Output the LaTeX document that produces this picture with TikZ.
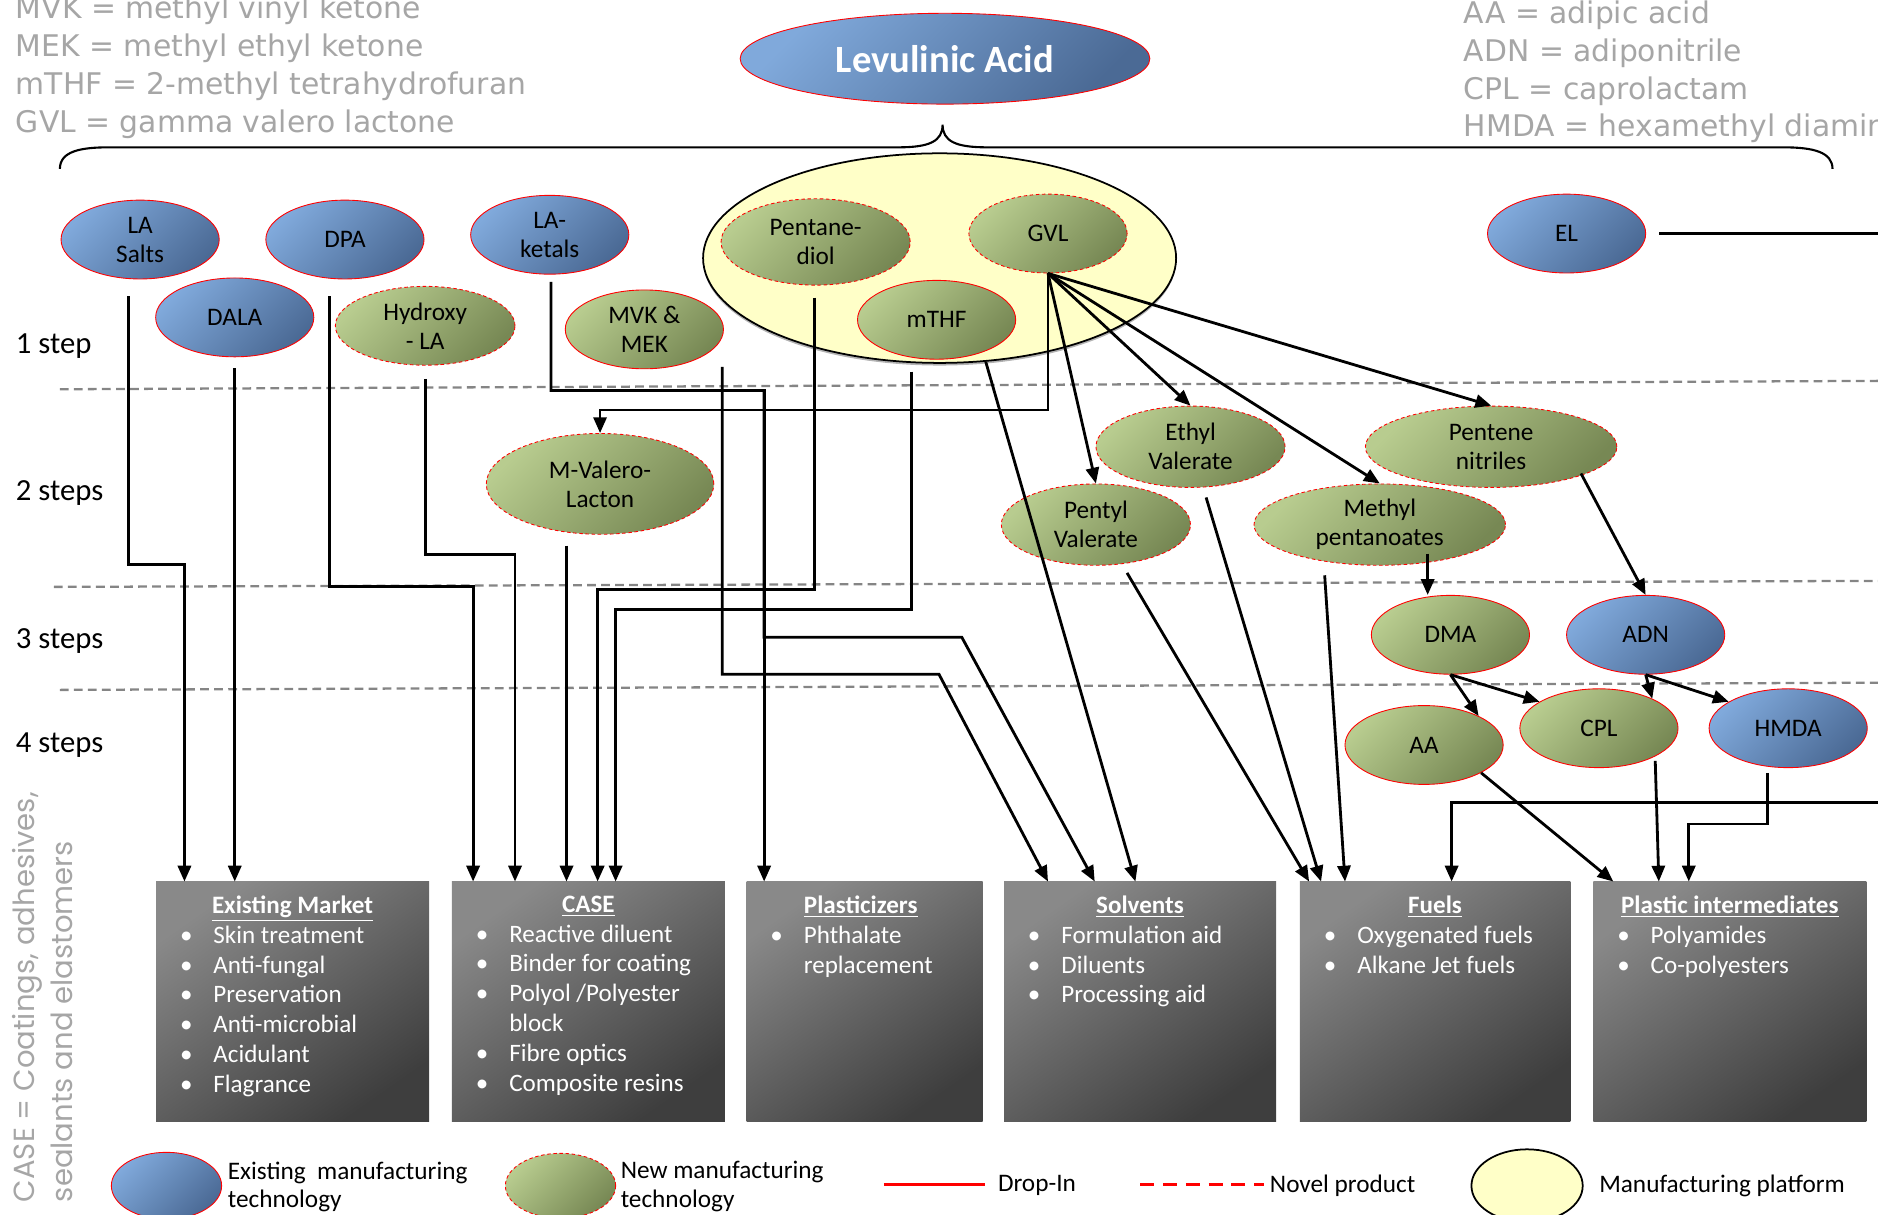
\documentclass[tikz,border=0pt]{standalone}
\usepackage{fontspec}
\setmainfont{Carlito}
\newfontfamily\legendfont{DejaVu Sans}
\newfontfamily\sidefont{Poppins}
\usetikzlibrary{arrows.meta,calc,shapes.geometric,shadows}
\definecolor{bluelt}{HTML}{80A9DB}
\definecolor{bluedk}{HTML}{4B6A95}
\definecolor{greenlt}{HTML}{B8CC8F}
\definecolor{greendk}{HTML}{778854}
\definecolor{boxlt}{HTML}{898989}
\definecolor{boxdk}{HTML}{3E3E3E}
\definecolor{note}{HTML}{A6A6A6}
\definecolor{pale}{HTML}{FFFFC8}
\definecolor{sepgray}{HTML}{858585}
\newcommand{\itm}[1]{\makebox[0.67cm][l]{\textbullet}#1\par}
\newcommand{\boxhead}[1]{{\centering\textbf{\underline{#1}}\par}}

\begin{document}
\begin{tikzpicture}[x=0.024cm,y=-0.024cm,>={Triangle[length=9pt,width=7.5pt]},
 font=\fontsize{14.4}{16.5}\selectfont,
 oval/.style={ellipse,inner sep=0pt,align=center,draw=red,line width=0.5pt,
   minimum width=3.17cm,minimum height=1.58cm},
 oldtech/.style={oval,top color=bluelt,bottom color=bluedk,shading angle=45},
 newtech/.style={oval,top color=greenlt,bottom color=greendk,shading angle=45},
 novel/.style={dash pattern=on 2pt off 1.5pt},
 platform/.style={ellipse,draw=black,line width=1pt,fill=pale,inner sep=0pt},
 appbox/.style={rectangle,anchor=north west,top color=boxlt,bottom color=boxdk,shading angle=35,
   inner xsep=0.48cm,inner ysep=0.28cm,text=white,font=\fontsize{14.3}{17}\selectfont},
 link/.style={->,line width=1.6pt},
 stepsep/.style={draw=sepgray,line width=1.3pt,dash pattern=on 5pt off 3pt},
 steplabel/.style={anchor=west,inner sep=0pt,font=\fontsize{17.5}{20}\selectfont},
 abbr/.style={anchor=base west,inner sep=0pt,text=note,font=\legendfont\fontsize{17}{21}\selectfont},
 legtext/.style={anchor=west,inner sep=0pt,align=left}]
\useasboundingbox (0,0) rectangle (1568,1014);

% abbreviations
\foreach \txt [count=\i] in {MVK = methyl vinyl ketone,MEK = methyl ethyl ketone,
  mTHF = 2-methyl tetrahydrofuran,GVL = gamma valero lactone}
  \node[abbr] (abbrL\i) at (13,15.8+31.7*\i-31.7) {\txt};
\foreach \txt [count=\i] in {AA = adipic acid,ADN = adiponitrile,
  CPL = caprolactam,HMDA = hexamethyl diamine}
  \node[abbr] (abbrR\i) at (1222,20+31.4*\i-31.4) {\txt};

% step bands
\draw[stepsep] (50,325) -- (1568,318);
\draw[stepsep] (45,490) -- (1568,485);
\draw[stepsep] (50,576) -- (1568,570);
\node[steplabel] (s1) at (13,289) {1 step};
\node[steplabel] (s2) at (13,412) {2 steps};
\node[steplabel] (s3) at (13,535) {3 steps};
\node[steplabel] (s4) at (13,622) {4 steps};

\node[rotate=90,anchor=north west,align=left,inner sep=0pt,text=note,
  font=\sidefont\fontsize{16.6}{21.5}\selectfont] (casenote) at (10,1004)
  {CASE = Coatings, adhesives,\\sealants and elastomers};

% levulinic acid and brace
\node[oldtech,minimum width=8.21cm,minimum height=1.82cm,text=white,
  font=\bfseries\fontsize{22}{24}\selectfont] (la) at (789,49) {Levulinic Acid};
\draw[line width=1.2pt] (50,141) .. controls (50,126) and (68,123) .. (91,123) -- (750,123)
  .. controls (776,123) and (787,118) .. (787,104) .. controls (787,118) and (798,123) .. (824,123)
  -- (1489,123) .. controls (1514,123) and (1530,127) .. (1530,141);

% platform
\node[platform,minimum width=9.48cm,minimum height=4.2cm,
  drop shadow={shadow xshift=0pt,shadow yshift=-1.5pt,fill=gray,opacity=0.6}] (plat) at (784.5,215.5) {};

% products
\node[oldtech] (lasalts) at (117,200) {LA\\Salts};
\node[oldtech] (dpa) at (288,200) {DPA};
\node[oldtech] (laket) at (459,196) {LA-\\ketals};
\node[oldtech] (dala) at (196,265) {DALA};
\node[newtech,novel,minimum width=3.6cm] (hydroxy) at (355,272) {Hydroxy\\- LA};
\node[newtech] (mvk) at (538,275) {MVK \&\\MEK};
\node[newtech,novel,minimum width=3.79cm,minimum height=1.73cm] (pdiol) at (681,202) {Pentane-\\diol};
\node[newtech,novel] (gvl) at (875,195) {GVL};
\node[newtech] (mthf) at (782,267) {mTHF};
\node[oldtech] (el) at (1308,195) {EL};
\node[newtech,novel,minimum width=4.56cm,minimum height=2.02cm] (mvalero) at (501,404) {M-Valero-\\Lacton};
\node[newtech,novel,minimum width=3.79cm,minimum height=1.63cm] (ethylv) at (994,373) {Ethyl\\Valerate};
\node[newtech,novel,minimum width=3.79cm,minimum height=1.63cm] (pentylv) at (915,438) {Pentyl\\Valerate};
\node[newtech,novel,minimum width=5.04cm,minimum height=1.63cm] (pnitr) at (1245,373) {Pentene\\nitriles};
\node[newtech,novel,minimum width=5.04cm,minimum height=1.63cm] (methylp) at (1152,438) {Methyl\\pentanoates};
\node[newtech] (dma) at (1211,530) {DMA};
\node[oldtech] (adn) at (1374,530) {ADN};
\node[newtech] (aa) at (1189,622) {AA};
\node[newtech] (cpl) at (1335,608) {CPL};
\node[oldtech] (hmda) at (1493,608) {HMDA};

% applications
\node[appbox] (market) at (130,736) {\parbox[c][4.24cm][t]{4.51cm}{\boxhead{Existing Market}%
  \itm{Skin treatment}\itm{Anti-fungal}\itm{Preservation}\itm{Anti-microbial}\itm{Acidulant}\itm{Flagrance}}};
\node[appbox] (case) at (377,736) {\parbox[c][4.24cm][t]{4.51cm}{\boxhead{CASE}%
  \itm{Reactive diluent}\itm{Binder for coating}\itm{Polyol /Polyester}\hspace*{0.67cm}block\par
  \itm{Fibre optics}\itm{Composite resins}}};
\node[appbox] (plast) at (623,736) {\parbox[c][4.24cm][t]{3.77cm}{\hspace*{0.67cm}\textbf{\underline{Plasticizers}}\par
  \itm{Phthalate}\hspace*{0.67cm}replacement\par}};
\node[appbox] (solv) at (838,736) {\parbox[c][4.24cm][t]{4.49cm}{\boxhead{Solvents}%
  \itm{Formulation aid}\itm{Diluents}\itm{Processing aid}}};
\node[appbox] (fuels) at (1085,736) {\parbox[c][4.24cm][t]{4.46cm}{\boxhead{Fuels}%
  \itm{Oxygenated fuels}\itm{Alkane Jet fuels}}};
\node[appbox] (plint) at (1330,736) {\parbox[c][4.24cm][t]{4.51cm}{\boxhead{Plastic intermediates}%
  \itm{Polyamides}\itm{Co-polyesters}}};

% routes
\draw[link] ($(lasalts.south)+(-10,14)$) |- (154,471) -- (market.north -| 154,0);
\draw[link] ($(dala.south)+(0,9)$) -- (market.north -| dala.south);
\draw[link] ($(dpa.south)+(-13,14)$) |- (395,490) -- (case.north -| 395,0);
\draw[link] ($(hydroxy.south)+(0,11)$) |- (430,463) -- (case.north -| 430,0);
\draw[link] ($(mvalero.south)+(-28,9)$) -- (case.north -| 473,0);
\draw[link] ($(pdiol.south)+(-1,10)$) |- (499,492) -- (case.north -| 499,0);
\draw[link] ($(mthf.south)+(-21,10)$) |- (514,509) -- (case.north -| 514,0);
\draw[link] ($(laket.south)+(1,6)$) |- (638,326) -- (plast.north -| 638,0);
\draw[link] ($(laket.south)+(1,6)$) |- (638,326) |- (803,532) -- (solv.north -| 914,0);
\draw[link] ($(mvk.south)+(65,-2)$) |- (784,563) -- (solv.north -| 875,0);
\draw[link] (plat.294) -- (solv.north -| 948,0);
\draw[link] (gvl.south) -- ++(0,114) -| (mvalero.north);
\foreach \dst in {pentylv,ethylv,methylp,pnitr}
  \draw[link] (gvl.south) -- (\dst.north);
\draw[link] ($(pentylv.south)+(26,6)$) -- (fuels.north -| 1093,0);
\draw[link] ($(ethylv.south)+(13,8)$) -- (fuels.north -| 1103,0);
\draw[link] ($(methylp.south)+(-46,8)$) -- (fuels.north -| 1123,0);
\draw[link] ($(methylp.south)+(40,-10)$) -- (dma.north -| 1192,0);
\draw[link] ($(pnitr.south)+(75,-12)$) -- (adn.north);
\draw[link] (dma.south) -- (aa.28);
\draw[link] (dma.south) -- (cpl.156);
\draw[link] (adn.south) -- (cpl.29);
\draw[link] (adn.south) -- (hmda.156);
\draw[link] (aa.-26) -- (plint.north -| 1347,0);
\draw[link] ($(cpl.south)+(47,-6)$) -- (plint.north -| 1385,0);
\draw[link] ($(hmda.south)+(-17,4)$) |- (1410,688) -- (plint.north -| 1410,0);
\draw[link] ($(el.east)+(11,0)$) -- (1620,195) |- (1212,670) -- (fuels.north -| 1212,0);

% legend
\node[oldtech,minimum width=2.21cm,minimum height=1.34cm] (legold) at (139,990) {};
\node[legtext] (legoldt) at (190,991) {Existing\ \ manufacturing\\technology};
\node[newtech,novel,minimum width=2.21cm,minimum height=1.30cm] (legnew) at (468,990) {};
\node[legtext] (legnewt) at (518,991) {New manufacturing\\technology};
\draw[red,line width=2pt] (738,989) -- (822,989);
\node[legtext] (legdrop) at (833,990) {Drop-In};
\draw[red,line width=2pt,dash pattern=on 8pt off 5pt] (952,989) -- (1055,989);
\node[legtext] (legnovel) at (1060,990) {Novel product};
\node[platform,minimum width=2.23cm,minimum height=1.46cm] (legplat) at (1275,990) {};
\node[legtext] (legplatt) at (1335,990) {Manufacturing platform};
\end{tikzpicture}
\end{document}
